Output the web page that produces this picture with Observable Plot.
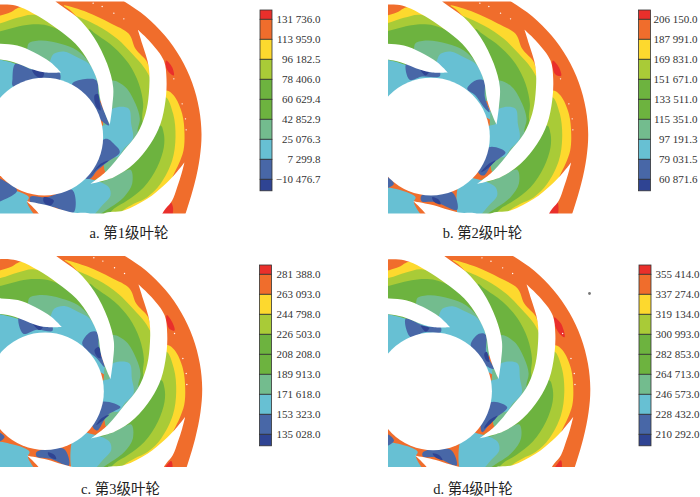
<!DOCTYPE html>
<html><head><meta charset="utf-8">
<script src="https://cdn.jsdelivr.net/npm/d3@7"></script>
<script src="https://cdn.jsdelivr.net/npm/@observablehq/plot@0.6"></script>
<style>html,body{margin:0;padding:0;background:#fff}svg{display:block}</style>
</head><body><div id="chart"></div>
<script>
const bandColors=["#E92F2B","#F06D2C","#FDD92E","#A9CB37","#6DB33F","#6DB33F","#73BC8E","#67C0D3","#4867A7","#2F4493"];
const labelsA=["131 736.0","113 959.0","96 182.5","78 406.0","60 629.4","42 852.9","25 076.3","7 299.8","−10 476.7"];
const labelsB=["206 150.0","187 991.0","169 831.0","151 671.0","133 511.0","115 351.0","97 191.3","79 031.5","60 871.6"];
const labelsC=["281 388.0","263 093.0","244 798.0","226 503.0","208 208.0","189 913.0","171 618.0","153 323.0","135 028.0"];
const labelsD=["355 414.0","337 274.0","319 134.0","300 993.0","282 853.0","264 713.0","246 573.0","228 432.0","210 292.0"];
const captions=["a. 第1级叶轮","b. 第2级叶轮","c. 第3级叶轮","d. 第4级叶轮"];

const [R,O,Y,L,G,T,C,B,D]=["#E92F2B","#F06D2C","#FDD92E","#A9CB37","#6DB33F","#73BC8E","#67C0D3","#4867A7","#2F4493"];
const contourLayers=[
 [O,[[-15,-15],[-15,-15],[340,-15],[340,-15],[375,5],[435,47],[493,105],[540,172],[575,247],[596,326],[603,400],[598,470],[582,550],[555,640],[545,665],[545,665],[-15,665],[-15,665]]],
 [Y,[[-40,52],[0,45],[30,35],[60,20],[130,40],[180,90],[130,130],[-40,130]]],
 [L,[[-40,75],[0,68],[50,52],[100,43],[160,75],[200,150],[-40,150]]],
 [G,[[-40,100],[0,92],[45,80],[90,72],[140,75],[190,95],[240,135],[285,210],[300,300],[250,300],[-40,200]]],
 [T,[[80,145],[85,128],[120,120],[180,130],[230,150],[265,185],[290,235],[300,300],[200,290],[70,200]]],
 [C,[[150,178],[160,160],[190,153],[230,170],[265,190],[285,225],[295,300],[320,360],[200,280],[140,230]]],
 [C,[[-40,172],[0,178],[40,188],[100,208],[180,217],[190,280],[-40,300]]],
 [Y,[[190,15],[260,35],[330,68],[385,100],[405,145],[440,185],[452,230],[470,280],[460,340],[430,410],[380,465],[320,520],[320,260],[310,190],[270,100],[210,30]]],
 [L,[[215,45],[290,75],[350,115],[395,160],[430,200],[447,228],[470,280],[460,340],[430,410],[380,465],[320,520],[320,260],[310,190],[270,100]]],
 [G,[[265,85],[285,100],[340,140],[385,190],[415,250],[428,310],[425,350],[430,410],[380,465],[320,520],[320,260],[310,190],[275,110]]],
 [T,[[335,240],[375,260],[405,310],[418,355],[412,395],[430,410],[380,465],[320,520],[320,260]]],
 [C,[[330,330],[350,320],[385,325],[392,370],[397,415],[370,445],[350,470],[300,450],[300,380],[325,370]]],
 [Y,[[497,270],[520,285],[545,340],[552,400],[549,450],[535,490],[518,525],[500,570],[440,620],[360,680],[270,680],[280,550],[320,520],[380,465],[430,410],[460,340],[470,300]]],
 [L,[[495,290],[518,340],[525,410],[515,480],[480,550],[440,590],[400,610],[370,628],[320,680],[270,680],[275,548],[320,520],[380,465],[430,410],[460,340]]],
 [G,[[480,375],[490,400],[490,440],[470,500],[430,560],[380,600],[340,625],[290,680],[250,680],[275,548],[320,520],[380,465],[430,410]]],
 [T,[[300,545],[340,530],[390,508],[395,550],[370,590],[330,620],[270,650],[250,600],[275,548]]],
 [C,[[265,535],[300,545],[325,560],[330,585],[305,615],[270,650],[220,660],[210,570],[230,530]]],
 [C,[[-40,565],[50,572],[85,590],[80,605],[115,680],[-40,680]]]
];
const blueA=[
 [B,[[215,250],[260,235],[288,240],[295,290],[320,355],[325,375],[280,340],[240,290]]],
 [D,[[282,285],[292,280],[298,310],[300,330],[288,320]]],
 [B,[[45,190],[95,207],[175,214],[178,240],[120,260],[38,258],[36,235]]],
 [D,[[95,207],[130,215],[125,232],[105,225]]],
 [B,[[305,420],[320,415],[340,430],[358,455],[320,485],[290,510],[268,535],[250,530],[280,480]]],
 [D,[[268,530],[290,505],[325,480],[300,490],[275,520]]],
 [B,[[90,588],[140,590],[215,568],[220,635],[160,620],[90,605]]],
 [D,[[130,590],[160,600],[150,615],[130,605]]],
 [B,[[-40,510],[0,535],[50,570],[5,600],[-40,610]]],
 [R,[[497,180],[515,200],[520,225],[505,215],[495,195]]],
 [R,[[460,660],[490,625],[510,605],[518,625],[500,680]]]
];
const blueB=[
 [B,[[240,265],[265,240],[290,240],[293,290],[307,335],[290,320],[265,285]]],
 [B,[[57,190],[110,210],[157,212],[157,228],[105,228],[67,238]]],
 [D,[[100,207],[125,213],[115,225]]],
 [B,[[305,440],[355,455],[315,490],[290,525],[273,515]]],
 [D,[[282,515],[305,490],[325,480],[300,505]]],
 [B,[[103,585],[195,575],[210,628],[145,605],[103,602]]],
 [D,[[135,590],[155,598],[160,612],[140,604]]],
 [B,[[-40,520],[3,530],[20,550],[3,562],[-40,570]]],
 [R,[[497,180],[515,200],[522,226],[505,222],[495,195]]],
 [R,[[465,660],[490,625],[510,605],[514,625],[500,680]]]
];
const blueC=[
 [B,[[243,266],[268,231],[288,231],[293,276],[310,336],[288,311]]],
 [D,[[280,285],[293,276],[298,310],[288,305]]],
 [B,[[53,186],[113,211],[153,214],[153,228],[108,224],[66,236]]],
 [D,[[95,205],[125,215],[115,225]]],
 [B,[[298,441],[358,456],[318,481],[288,526],[273,511]]],
 [D,[[285,510],[300,490],[325,478],[300,500]]],
 [B,[[106,591],[188,581],[203,631],[148,611],[106,604]]],
 [D,[[140,592],[160,600],[165,612],[145,605]]],
 [B,[[-40,525],[-2,534],[10,546],[-2,558],[-40,565]]],
 [R,[[497,180],[515,205],[520,226],[505,222],[495,195]]],
 [R,[[480,660],[495,632],[510,618],[514,632],[505,680]]]
];
const blueD=[
 [B,[[244,271],[269,236],[289,238],[291,296],[314,341],[289,331]]],
 [D,[[285,296],[292,290],[300,320],[290,315]]],
 [B,[[49,191],[109,214],[154,216],[154,231],[104,231],[64,246]]],
 [D,[[95,212],[120,218],[110,230]]],
 [B,[[304,441],[354,456],[309,496],[279,531],[274,516]]],
 [D,[[284,520],[300,495],[325,482],[305,505]]],
 [B,[[101,591],[184,584],[202,631],[139,606],[101,604]]],
 [D,[[130,595],[150,600],[160,615],[140,608]]],
 [B,[[-40,530],[-3,538],[14,556],[-3,571],[-40,580]]],
 [R,[[494,186],[515,205],[526,246],[510,235],[495,205]]],
 [R,[[485,660],[500,632],[515,615],[518,632],[510,680]]]
];
const W="#ffffff";
const bladeLayers=[
 [W,[[-40,12],[0,12],[30,13],[60,20],[110,45],[170,85],[225,130],[265,185],[290,240],[300,300],[318,350],[328,372],[328,372],[335,320],[338,260],[320,190],[280,110],[230,50],[168,5],[130,-30],[-40,-30]]],
 [W,[[-40,128],[0,130],[50,135],[100,155],[150,185],[182,216],[182,216],[135,216],[100,208],[40,185],[0,177],[-40,172]]],
 [W,[[412,88],[412,88],[425,130],[445,200],[445,280],[435,340],[410,400],[370,450],[320,510],[270,550],[270,550],[340,530],[400,490],[450,430],[480,370],[495,300],[498,235],[490,180],[450,125]]],
 [W,[[552,485],[552,485],[543,520],[530,560],[515,600],[495,625],[450,680],[290,680],[310,640],[370,630],[440,595],[490,555],[520,525]]],
 [W,[[78,602],[78,602],[130,612],[215,636],[270,641],[300,680],[130,680],[115,640]]]
];
const hubCentre=[131.5,408.5];
const specks=[[278,8],[305,18],[340,38],[370,55],[520,235],[545,310],[555,355],[557,388]];
const panels=[
 {dx:0,dy:0,left:0,top:1.5,bottom:213.5,barX:260,barY:10,labels:labelsA,blue:blueA,labelX:320,cap:128.5,capY:233},
 {dx:386.7,dy:0,left:388,top:1.5,bottom:213.5,barX:638.5,barY:10,labels:labelsB,blue:blueB,labelX:697,cap:482,capY:233},
 {dx:.7,dy:254.6,left:0,top:256,bottom:467,barX:259.5,barY:265,labels:labelsC,blue:blueC,labelX:320,cap:120,capY:489},
 {dx:388.8,dy:254.7,left:388,top:256,bottom:467,barX:639,barY:265,labels:labelsD,blue:blueD,labelX:699,cap:472.5,capY:489}
];
const rows=[],rects=[],ticks=[],hubs=[],dots=[],caps=[],masks=[];
let id=0;
panels.forEach((p,pi)=>{
  const add=(col,poly)=>{id++;poly.forEach(([x,y])=>rows.push({id,color:col,x:x/3+p.dx,y:y/3+p.dy}));};
  contourLayers.forEach(([c,q])=>add(c,q));
  p.blue.forEach(([c,q])=>add(c,q));
  bladeLayers.forEach(([c,q])=>add(c,q));
  hubs.push({x:hubCentre[0]/3+p.dx,y:hubCentre[1]/3+p.dy});
  specks.forEach(([x,y])=>dots.push({x:x/3+p.dx,y:y/3+p.dy}));
  masks.push({x1:Math.max(0,p.left-38),x2:p.left+230,y1:Math.max(0,p.top-30),y2:p.top});
  masks.push({x1:Math.max(0,p.left-38),x2:p.left+230,y1:p.bottom,y2:p.bottom+30});
  if(p.left>0) masks.push({x1:p.left-38,x2:p.left,y1:p.top-10,y2:p.bottom+10});
  bandColors.forEach((c,i)=>{
    const y0=p.barY+(i===0?0:9.3+20*(i-1)), y1=p.barY+(i===bandColors.length-1?180.8:9.3+20*i);
    rects.push({x1:p.barX,x2:p.barX+12,y1:y0,y2:y1,c});
  });
  p.labels.forEach((t,i)=>ticks.push({x:p.labelX,y:p.barY+9.3+20*i,t}));
  caps.push({x:p.cap,y:p.capY,t:captions[pi]});
});
const specksGray=[{x:589,y:293}];
const plot=Plot.plot({
  width:700,height:497,margin:0,
  x:{domain:[0,700],range:[0,700],axis:null},
  y:{domain:[0,497],range:[0,497],axis:null},
  marks:[
    Plot.line(rows,{x:"x",y:"y",z:"id",fill:"color",stroke:null,curve:"catmull-rom-closed"}),
    Plot.dot(hubs,{x:"x",y:"y",r:58.8,fill:"white"}),
    Plot.dot(dots,{x:"x",y:"y",r:0.7,fill:"white"}),
    Plot.rect(masks,{x1:"x1",x2:"x2",y1:"y1",y2:"y2",fill:"white",inset:0}),
    Plot.dot(specksGray,{x:"x",y:"y",r:1.4,fill:"#777"}),
    Plot.rect(rects,{x1:"x1",x2:"x2",y1:"y1",y2:"y2",fill:"c",stroke:"#333",strokeWidth:0.8,inset:0}),
    Plot.text(ticks,{x:"x",y:"y",text:"t",textAnchor:"end",fontFamily:"Liberation Serif",fontSize:11,fill:"#333"}),
    Plot.text(caps,{x:"x",y:"y",text:"t",fontFamily:"Liberation Serif, Noto Sans CJK SC",fontSize:14.5,fill:"#222"})
  ]
});
document.getElementById("chart").appendChild(plot);
</script></body></html>
